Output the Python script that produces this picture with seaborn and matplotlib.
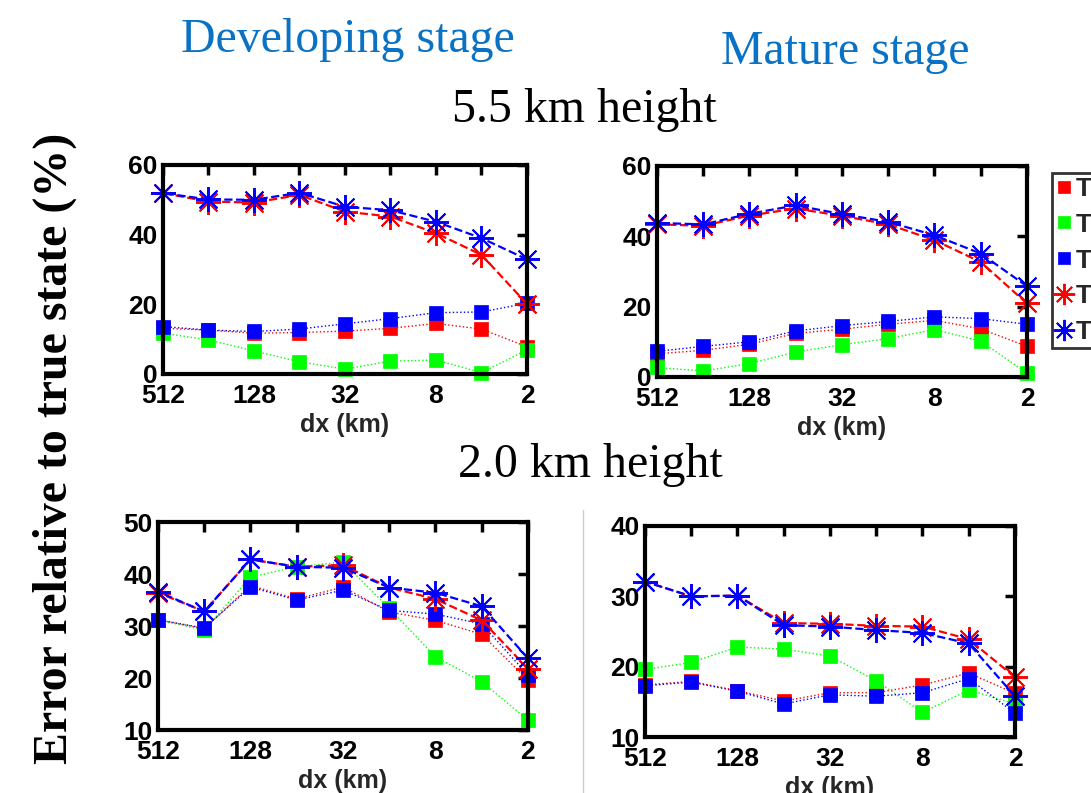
import matplotlib
matplotlib.use("Agg")
import matplotlib.pyplot as plt
import numpy as np
import pandas as pd
import seaborn as sns

# grid spacing (km), coarse -> fine
dx = [512, 256, 128, 64, 32, 16, 8, 4, 2]
tick_labels = ["512", "", "128", "", "32", "", "8", "", "2"]

# developing stage, 5.5 km
dev55_red_sq = [13.1, 12.6, 11.7, 11.9, 12.3, 13.1, 14.5, 12.9, 7.8]
dev55_green_sq = [11.7, 9.8, 6.6, 3.5, 1.4, 3.7, 4.0, 0.4, 6.9]
dev55_blue_sq = [13.6, 12.6, 12.2, 12.9, 14.4, 15.9, 17.6, 17.8, 20.3]
dev55_red_st = [51.9, 49.5, 49.2, 51.4, 46.6, 45.2, 40.4, 34.2, 20.1]
dev55_blue_st = [51.9, 50.1, 50.0, 52.0, 48.0, 47.0, 43.7, 39.0, 32.9]

# mature stage, 5.5 km
mat55_red_sq = [6.6, 7.6, 9.3, 12.4, 13.6, 15.0, 16.1, 13.7, 8.7]
mat55_green_sq = [2.7, 1.7, 3.8, 7.1, 9.2, 10.9, 13.5, 10.2, 1.1]
mat55_blue_sq = [7.3, 8.7, 10.0, 13.1, 14.6, 15.8, 17.1, 16.6, 15.0]
mat55_red_st = [43.4, 43.0, 45.9, 47.9, 45.8, 43.4, 38.9, 32.7, 20.9]
mat55_blue_st = [43.8, 43.4, 46.4, 48.8, 46.3, 44.1, 40.3, 35.1, 25.8]

# developing stage, 2.0 km
dev20_red_sq = [31.2, 29.5, 37.8, 35.2, 37.5, 32.7, 31.1, 28.4, 19.6]
dev20_green_sq = [31.2, 29.2, 39.4, 41.4, 42.3, 33.4, 24.1, 19.3, 11.9]
dev20_blue_sq = [31.2, 29.6, 37.5, 35.0, 36.9, 33.0, 32.3, 30.4, 20.6]
dev20_red_st = [36.4, 32.8, 42.8, 41.4, 41.7, 37.4, 35.2, 31.1, 21.8]
dev20_blue_st = [36.6, 32.8, 42.8, 41.4, 41.2, 37.4, 36.4, 33.8, 23.8]

# mature stage, 2.0 km
mat20_red_sq = [17.4, 17.9, 16.6, 15.1, 16.3, 16.3, 17.4, 19.1, 16.2]
mat20_green_sq = [19.6, 20.6, 22.8, 22.5, 21.5, 18.0, 13.5, 16.7, 14.7]
mat20_blue_sq = [17.3, 17.8, 16.5, 14.7, 16.0, 15.8, 16.3, 18.3, 13.4]
mat20_red_st = [32.1, 30.0, 30.1, 26.2, 26.1, 25.8, 25.7, 23.9, 18.5]
mat20_blue_st = [32.1, 30.0, 30.1, 25.9, 25.7, 25.2, 24.8, 23.3, 15.8]

series_labels = ["T", "T", "T", "T", "T"]
series_colors = ["#ff0000", "#00ff00", "#0000ff", "#ff0000", "#0000ff"]

panels = [
    ([dev55_red_sq, dev55_green_sq, dev55_blue_sq, dev55_red_st, dev55_blue_st], (0, 60), [0, 20, 40, 60]),
    ([mat55_red_sq, mat55_green_sq, mat55_blue_sq, mat55_red_st, mat55_blue_st], (0, 60), [0, 20, 40, 60]),
    ([dev20_red_sq, dev20_green_sq, dev20_blue_sq, dev20_red_st, dev20_blue_st], (10, 50), [10, 20, 30, 40, 50]),
    ([mat20_red_sq, mat20_green_sq, mat20_blue_sq, mat20_red_st, mat20_blue_st], (10, 40), [10, 20, 30, 40]),
]
axes_rects = [
    [0.1494, 0.5284, 0.3336, 0.2636],
    [0.6022, 0.5246, 0.3391, 0.2661],
    [0.1448, 0.0794, 0.3391, 0.2623],
    [0.5912, 0.0706, 0.3391, 0.2661],
]

sns.set_style("white")
plt.rcParams["font.family"] = ["Liberation Sans", "DejaVu Sans"]

fig = plt.figure(figsize=(10.91, 7.93), dpi=100)

handles = None
for (vals, ylim, yticks), rect in zip(panels, axes_rects):
    ax = fig.add_axes(rect)
    ax.set_xscale("log", base=2)
    for i, (v, lab, col) in enumerate(zip(vals, series_labels, series_colors)):
        df = pd.DataFrame({"dx": dx, "err": v})
        star = i >= 3
        sns.lineplot(
            data=df, x="dx", y="err", ax=ax, color=col, label=lab,
            linestyle="--" if star else ":", linewidth=1.6 if star else 1.0,
            marker=(8, 2, 0) if star else "s",
            markersize=18 if star else 10,
            markeredgewidth=1.4 if star else 0.5,
            markeredgecolor=col, markerfacecolor=col,
            legend=True, clip_on=False,
        )
    if handles is None:
        handles, labels = ax.get_legend_handles_labels()
    ax.get_legend().remove()
    ax.set_xlim(512, 2)
    ax.set_ylim(*ylim)
    ax.set_xticks(dx)
    ax.xaxis.set_minor_locator(matplotlib.ticker.NullLocator())
    ax.set_xticklabels(tick_labels)
    ax.set_yticks(yticks)
    ax.set_yticklabels([str(t) for t in yticks])
    ax.tick_params(direction="in", length=7, width=2.5, top=True, right=True,
                   labelsize=19, colors="black")
    ax.tick_params(axis="y", pad=4)
    ax.tick_params(axis="x", pad=7)
    for lbl in ax.get_xticklabels() + ax.get_yticklabels():
        lbl.set_fontweight("bold")
    for sp in ax.spines.values():
        sp.set_linewidth(3)
        sp.set_color("black")
    ax.set_xlabel("dx (km)", fontsize=18, fontweight="bold", labelpad=4)
    ax.set_ylabel("")

leg = fig.legend(handles, labels, loc="upper left", bbox_to_anchor=(0.9643, 0.782),
                 borderaxespad=0, frameon=True, fancybox=False, edgecolor="black",
                 handlelength=0.6, handletextpad=0.15, borderpad=0.15, labelspacing=0.45,
                 markerscale=0.85, prop={"weight": "bold", "size": 19})
leg.get_frame().set_linewidth(2)
for h in leg.legend_handles:
    h.set_linestyle("none")

serif = ["Liberation Serif", "DejaVu Serif"]
fig.text(0.319, 0.949, "Developing stage", ha="center", va="center", fontsize=34.5,
         color="#0a72c4", family=serif)
fig.text(0.7745, 0.934, "Mature stage", ha="center", va="center", fontsize=34.5,
         color="#0a72c4", family=serif)
fig.text(0.536, 0.861, "5.5 km height", ha="center", va="center", fontsize=34.5,
         color="black", family=serif)
fig.text(0.541, 0.4136, "2.0 km height", ha="center", va="center", fontsize=34.5,
         color="black", family=serif)
fig.text(0.0504, 0.435, "Error relative to true state (%)", ha="center", va="center",
         rotation=90, fontsize=34.5, fontweight="bold", color="black", family=serif)

# thin divider between the bottom panels
fig.add_artist(plt.Line2D([0.5344, 0.5344], [0.0, 0.357], color="#cccccc", linewidth=1))

fig.savefig("out.png", dpi=100)
